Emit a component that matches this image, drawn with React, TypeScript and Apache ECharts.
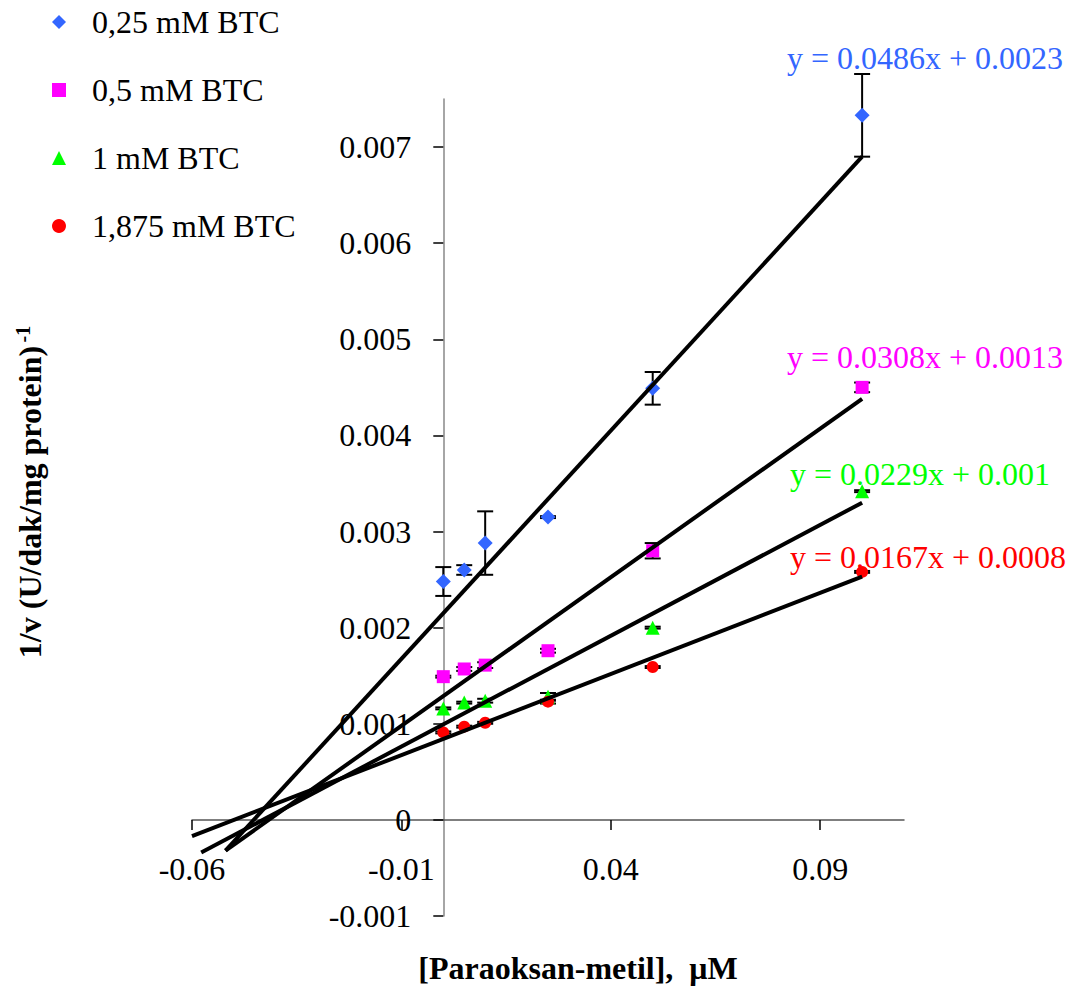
import React, { useEffect, useRef } from 'react';
import * as echarts from 'echarts';

// ---------- data ----------
const concentrations = [0, 0.005, 0.01, 0.025, 0.05, 0.1];
const seriesNames = ['0,25 mM BTC', '0,5 mM BTC', '1 mM BTC', '1,875 mM BTC'];
const seriesColors = ['#3366FF', '#FF00FF', '#00FF00', '#FF0000'];
const seriesSymbols = ['diamond', 'rect', 'triangle', 'circle'];
const seriesSymbolSizes = [15, 13, 14, 12];

const values025 = [0.00248, 0.0026, 0.00288, 0.00315, 0.00449, 0.00733];
const values05 = [0.00149, 0.00157, 0.00161, 0.00176, 0.0028, 0.0045];
const values1 = [0.00116, 0.00122, 0.00124, 0.00128, 0.002, 0.00342];
const values1875 = [0.00091, 0.00097, 0.00101, 0.00123, 0.00159, 0.00258];

const errors025 = [0.00015, 0.00005, 0.00033, 0.00001, 0.00017, 0.00043];
const errors05 = [0.00001, 0.00002, 0.00003, 0.00002, 0.00008, 0.00005];
const errors1 = [0.00001, 0.00001, 0.00002, 0.00004, 0.00001, 0.00001];
const errors1875 = [0.00001, 0.00001, 0.00001, 0.00002, 0.00001, 0.00001];

// trend lines (start, end)
const trend025 = [[-0.052, -0.00032], [0.1, 0.0069]];
const trend05 = [[-0.052, -0.00032], [0.1, 0.00438]];
const trend1 = [[-0.0578, -0.00034], [0.1, 0.0033]];
const trend1875 = [[-0.06, -0.00017], [0.1, 0.00253]];

const equations = [
  'y = 0.0486x + 0.0023',
  'y = 0.0308x + 0.0013',
  'y = 0.0229x + 0.001',
  'y = 0.0167x + 0.0008',
];

const xTicks = [-0.06, -0.01, 0.04, 0.09];
const yTicks = [-0.001, 0, 0.001, 0.002, 0.003, 0.004, 0.005, 0.006, 0.007];

const xTitle = '[Paraoksan-metil],  μM';
const yTitle = '1/v (U/dak/mg protein)';
const yTitleSup = '-1';

const FONT = 'Liberation Serif';

const X_MIN = -0.06;
const X_MAX = 0.11;
const Y_MIN = -0.001;
const Y_MAX = 0.0075;

export default function App() {
  const ref = useRef<HTMLDivElement>(null);

  useEffect(() => {
    document.body.style.margin = '0';
    const chart = echarts.init(ref.current!, undefined, { renderer: 'svg' });

    const allValues = [values025, values05, values1, values1875];
    const allErrors = [errors025, errors05, errors1, errors1875];
    const allTrends = [trend025, trend05, trend1, trend1875];

    const gridLeft = 192;
    const gridTop = 99;
    const gridW = 712;
    const gridH = 817;
    // move the axes onto the zero lines of each other
    const yAxisOffset = -((0 - X_MIN) / (X_MAX - X_MIN)) * gridW;
    const xAxisOffset = -((0 - Y_MIN) / (Y_MAX - Y_MIN)) * gridH;

    const series: any[] = [];
    allValues.forEach((vals, i) => {
      series.push({
        type: 'custom',
        name: seriesNames[i] + ' err',
        z: 1,
        silent: true,
        data: vals.map((v, k) => [concentrations[k], v - allErrors[i][k], v + allErrors[i][k]]),
        encode: { x: 0, y: [1, 2] },
        renderItem: (params: any, api: any) => {
          const x = api.value(0);
          const lo = api.value(1);
          const hi = api.value(2);
          const top = api.coord([x, hi]);
          const bot = api.coord([x, lo]);
          const w = 8;
          const style = { stroke: '#000', lineWidth: 2 };
          return {
            type: 'group',
            children: [
              { type: 'line', shape: { x1: top[0], y1: top[1], x2: bot[0], y2: bot[1] }, style },
              { type: 'line', shape: { x1: top[0] - w, y1: top[1], x2: top[0] + w, y2: top[1] }, style },
              { type: 'line', shape: { x1: bot[0] - w, y1: bot[1], x2: bot[0] + w, y2: bot[1] }, style },
            ],
          };
        },
      });
    });
    allValues.forEach((vals, i) => {
      series.push({
        type: 'scatter',
        name: seriesNames[i],
        z: 2,
        symbol: seriesSymbols[i],
        symbolSize: seriesSymbolSizes[i],
        itemStyle: { color: seriesColors[i], opacity: 1 },
        data: vals.map((v, k) => [concentrations[k], v]),
      });
    });
    allTrends.forEach((t, i) => {
      series.push({
        type: 'line',
        name: seriesNames[i] + ' trend',
        z: 3,
        silent: true,
        showSymbol: false,
        symbol: 'none',
        lineStyle: { color: '#000', width: 4 },
        data: t,
      });
    });

    const eqPos = [
      [787, 58],
      [787, 357],
      [790, 474],
      [790, 557],
    ];

    chart.setOption({
      animation: false,
      backgroundColor: '#fff',
      textStyle: { fontFamily: FONT },
      grid: {
        left: gridLeft,
        top: gridTop,
        width: gridW,
        height: gridH,
        containLabel: false,
        outerBoundsMode: 'none',
      },
      legend: {
        data: seriesNames,
        orient: 'vertical',
        left: 47,
        top: 1,
        itemWidth: 14,
        itemHeight: 14,
        itemGap: 36,
        selectedMode: false,
        textStyle: {
          fontFamily: FONT,
          fontSize: 32,
          color: '#000',
          padding: [0, 0, 0, 21],
        },
      },
      xAxis: {
        type: 'value',
        min: X_MIN,
        max: X_MAX,
        interval: 0.05,
        position: 'bottom',
        offset: xAxisOffset,
        axisLine: { show: true, onZero: false, lineStyle: { color: '#555', width: 1.5 } },
        axisTick: { show: true, inside: false, length: 10, customValues: xTicks, lineStyle: { color: '#000', width: 1.5 } },
        axisLabel: {
          customValues: xTicks,
          margin: 33,
          fontFamily: FONT,
          fontSize: 32,
          color: '#000',
          formatter: (v: number) => v.toFixed(2),
        },
        splitLine: { show: false },
      },
      yAxis: {
        type: 'value',
        min: Y_MIN,
        max: Y_MAX,
        interval: 0.001,
        position: 'left',
        offset: yAxisOffset,
        axisLine: { show: true, onZero: false, lineStyle: { color: '#888', width: 1.5 } },
        axisTick: { show: true, inside: false, length: 10, customValues: yTicks, lineStyle: { color: '#000', width: 1.5 } },
        axisLabel: {
          customValues: yTicks,
          margin: 32,
          fontFamily: FONT,
          fontSize: 32,
          color: '#000',
          formatter: (v: number) => (Math.abs(v) < 1e-12 ? '0' : v.toFixed(3)),
        },
        splitLine: { show: false },
      },
      graphic: [
        ...equations.map((eq, i) => ({
          type: 'text',
          x: eqPos[i][0],
          y: eqPos[i][1],
          z: 10,
          style: {
            text: eq,
            fill: seriesColors[i],
            fontFamily: FONT,
            fontSize: 32,
            textAlign: 'left',
            textVerticalAlign: 'middle',
          },
        })),
        {
          type: 'text',
          x: 578,
          y: 968,
          style: {
            text: xTitle,
            fill: '#000',
            fontFamily: FONT,
            fontSize: 32,
            fontWeight: 'bold',
            textAlign: 'center',
            textVerticalAlign: 'middle',
          },
        },
        {
          type: 'text',
          x: 30,
          y: 492,
          rotation: Math.PI / 2,
          style: {
            text: '{a|' + yTitle + '} {b|' + yTitleSup + '}',
            fill: '#000',
            textAlign: 'center',
            textVerticalAlign: 'middle',
            rich: {
              a: { fontFamily: FONT, fontSize: 32, fontWeight: 'bold', fill: '#000', lineHeight: 34 },
              b: { fontFamily: FONT, fontSize: 20, fontWeight: 'bold', fill: '#000', verticalAlign: 'top', lineHeight: 20 },
            },
          },
        },
      ],
      series,
    });

    return () => chart.dispose();
  }, []);

  return <div ref={ref} style={{ width: 1074, height: 990 }} />;
}
